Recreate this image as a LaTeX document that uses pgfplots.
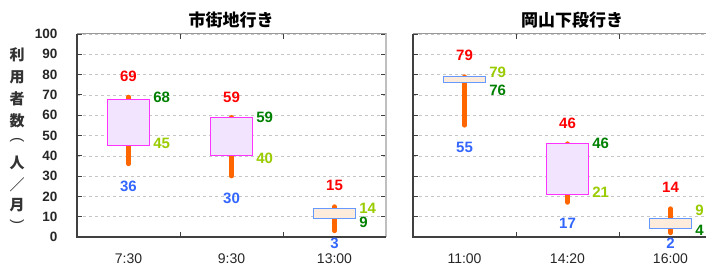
\documentclass[border=0pt]{standalone}
\usepackage{fontspec}
\setmainfont{Liberation Sans}
\newfontfamily\cjk{Noto Sans CJK JP}
\usepackage{pgfplots}
\pgfplotsset{compat=1.18}
\definecolor{hi}{HTML}{FF0000}
\definecolor{lo}{HTML}{3366FF}
\definecolor{op}{HTML}{99CC00}
\definecolor{cl}{HTML}{008000}
\definecolor{wick}{HTML}{FF6600}
\definecolor{upedge}{HTML}{FF33FF}
\definecolor{upfill}{HTML}{F2E4FF}
\definecolor{dnedge}{HTML}{6699FF}
\definecolor{dnfill}{HTML}{FDEBDC}
\pgfplotsset{
  candle/.style={
    width=309pt, height=203pt, scale only axis,
    xmin=-0.5, xmax=2.5, ymin=0, ymax=100,
    ytick={0,10,...,100},
    xtick={0.5,1.5}, xticklabels={},
    extra x ticks={0,1,2},
    extra x tick style={major tick length=0pt},
    tick align=inside, major tick length=5pt,
    tick style={black!75, line width=0.8pt},
    ymajorgrids, grid style={dashed, gray!45, line width=0.5pt},
    axis line style={gray!60, line width=1pt},
    clip=false,
    /pgf/number format/assume math mode=true,
    yticklabel style={font=\fontsize{13.5}{14}\selectfont\bfseries, text=black!85, xshift=-16pt},
    xticklabel style={font=\fontsize{14}{14}\selectfont, text=black!85, yshift=-13pt},
  },
  wk/.style={draw=wick, line width=4.5pt, line cap=round, mark=none},
  upbox/.style={draw=upedge, fill=upfill, line width=0.9pt, mark=none},
  dnbox/.style={draw=dnedge, fill=dnfill, line width=0.9pt, mark=none},
  lab/.style={draw=none, mark=none, nodes near coords, point meta=explicit symbolic,
    every node near coord/.append style={anchor=center, text=#1, font=\fontsize{15}{15}\selectfont\bfseries, inner sep=0pt}},
  labr/.style={draw=none, mark=none, nodes near coords, point meta=explicit symbolic,
    every node near coord/.append style={anchor=west, xshift=4pt, text=#1, font=\fontsize{15}{15}\selectfont\bfseries, inner sep=0pt}},
}
\begin{document}
\begin{tikzpicture}
% ---------- left panel: 7:30 (O45 H69 L36 C68), 9:30 (O40 H59 L30 C59), 13:00 (O14 H15 L3 C9)
\begin{axis}[candle, at={(77pt,38pt)}, anchor=south west,
  extra x tick labels={7:30,9:30,13:00}]
\addplot[wk] coordinates {(0,36) (0,69)};
\addplot[wk] coordinates {(1,30) (1,59)};
\addplot[wk] coordinates {(2,3) (2,15)};
\addplot[upbox] coordinates {(-0.2,45) (0.2,45) (0.2,68) (-0.2,68)} -- cycle;
\addplot[upbox] coordinates {(0.8,40) (1.2,40) (1.2,59) (0.8,59)} -- cycle;
\addplot[dnbox] coordinates {(1.8,9) (2.2,9) (2.2,14) (1.8,14)} -- cycle;
\addplot[lab=hi] table[meta=l]{x y l
0 79.3 69
1 69.0 59
2 25.6 15
};
\addplot[lab=lo] table[meta=l]{x y l
0 25.1 36
1 19.2 30
2 -3.0 3
};
\addplot[labr=op] table[meta=l]{x y l
0.2 46.3 45
1.2 38.9 40
2.2 14.3 14
};
\addplot[labr=cl] table[meta=l]{x y l
0.2 69.0 68
1.2 59.0 59
2.2 7.1 9
};
\draw[gray!50, line width=1.6pt] (rel axis cs:1,0) -- (rel axis cs:1,1);
\draw[gray!80, line width=1pt] (rel axis cs:0,1) -- (rel axis cs:1,1);
\draw[black!75, line width=1.8pt] (rel axis cs:0,1) -- (rel axis cs:0,0) -- (rel axis cs:1,0);
\end{axis}
% ---------- right panel: 11:00 (O79 H79 L55 C76), 14:20 (O21 H46 L17 C46), 16:00 (O9 H14 L2 C4)
\begin{axis}[candle, at={(413pt,38pt)}, anchor=south west,
  yticklabels={}, extra x tick labels={11:00,14:20,16:00}]
\addplot[wk] coordinates {(0,55) (0,79)};
\addplot[wk] coordinates {(1,17) (1,46)};
\addplot[wk] coordinates {(2,2) (2,14)};
\addplot[dnbox] coordinates {(-0.2,76) (0.2,76) (0.2,79) (-0.2,79)} -- cycle;
\addplot[upbox] coordinates {(0.8,21) (1.2,21) (1.2,46) (0.8,46)} -- cycle;
\addplot[dnbox] coordinates {(1.8,4) (2.2,4) (2.2,9) (1.8,9)} -- cycle;
\addplot[lab=hi] table[meta=l]{x y l
0 89.7 79
1 56.2 46
2 24.6 14
};
\addplot[lab=lo] table[meta=l]{x y l
0 44.3 55
1 6.9 17
2 -3.0 2
};
\addplot[labr=op] table[meta=l]{x y l
0.2 81.3 79
1.2 22.2 21
2.2 13.3 9
};
\addplot[labr=cl] table[meta=l]{x y l
0.2 72.4 76
1.2 46.3 46
2.2 3.4 4
};
\draw[gray!80, line width=1pt] (rel axis cs:0,1) -- (rel axis cs:1,1);
\draw[black!75, line width=1.8pt] (rel axis cs:0,1) -- (rel axis cs:0,0) -- (rel axis cs:1,0);
\end{axis}
% titles
\node[font=\cjk\bfseries\fontsize{17}{17}\selectfont] at (231pt,255pt) {市街地行き};
\node[font=\cjk\bfseries\fontsize{17}{17}\selectfont] at (572pt,255pt) {岡山下段行き};
% vertical y-axis label 利用者数（人／月）
\begin{scope}[every node/.style={font=\cjk\bfseries\fontsize{15}{15}\selectfont, text=black!80, inner sep=0pt}]
\node at (17pt,220pt) {利};
\node at (17pt,198pt) {用};
\node at (17pt,176pt) {者};
\node at (17pt,154pt) {数};
\node[rotate=-90, font=\fontsize{15}{15}\selectfont] at (17pt,135pt) {(};
\node at (17pt,112pt) {人};
\node at (17pt,90pt) {／};
\node at (17pt,70pt) {月};
\node[rotate=-90, font=\fontsize{15}{15}\selectfont] at (17pt,53pt) {)};
\end{scope}
\pgfresetboundingbox
\useasboundingbox (0,0) rectangle (706pt,275pt);
\end{tikzpicture}
\end{document}
